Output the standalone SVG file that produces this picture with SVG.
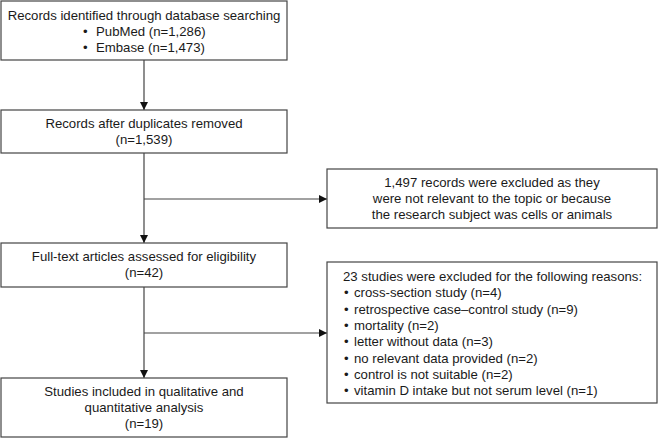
<svg xmlns="http://www.w3.org/2000/svg" width="659" height="438" viewBox="0 0 659 438">
<style>
.box{fill:#fff;stroke:#444;stroke-width:1.2}
text{font-family:"Liberation Sans",Arial,sans-serif;font-size:13.2px;fill:#1a1a1a}
.c{text-anchor:middle}
.ln{stroke:#444;stroke-width:1.2;fill:none}
</style>
<defs>
<marker id="ah" viewBox="0 0 10 10" refX="10" refY="5" markerWidth="8" markerHeight="8" markerUnits="userSpaceOnUse" orient="auto">
<path d="M0,0 L10,5 L0,10 z" fill="#111"/>
</marker>
</defs>
<rect width="659" height="438" fill="#fff"/>
<g id="connectors">
<line class="ln" x1="144" y1="60" x2="144" y2="110" marker-end="url(#ah)"/>
<line class="ln" x1="144" y1="153" x2="144" y2="243" marker-end="url(#ah)"/>
<line class="ln" x1="144" y1="199" x2="327" y2="199" marker-end="url(#ah)"/>
<line class="ln" x1="144" y1="287" x2="144" y2="378" marker-end="url(#ah)"/>
<line class="ln" x1="144" y1="333" x2="327" y2="333" marker-end="url(#ah)"/>
</g>
<g id="n1">
<rect class="box" x="1" y="1" width="286" height="59"/>
<text class="c" x="144" y="20">Records identified through database searching</text>
<text x="83" y="36">•<tspan x="96">PubMed (n=1,286)</tspan></text>
<text x="83" y="52">•<tspan x="96">Embase (n=1,473)</tspan></text>
</g>
<g id="n2">
<rect class="box" x="1" y="110" width="286" height="43"/>
<text class="c" x="144" y="128">Records after duplicates removed</text>
<text class="c" x="144" y="144">(n=1,539)</text>
</g>
<g id="n3">
<rect class="box" x="327" y="169" width="330" height="59"/>
<text class="c" x="492" y="187">1,497 records were excluded as they</text>
<text class="c" x="492" y="203">were not relevant to the topic or because</text>
<text class="c" x="492" y="219">the research subject was cells or animals</text>
</g>
<g id="n4">
<rect class="box" x="1" y="243" width="286" height="44"/>
<text class="c" x="144" y="261">Full-text articles assessed for eligibility</text>
<text class="c" x="144" y="277">(n=42)</text>
</g>
<g id="n5">
<rect class="box" x="327" y="262" width="330" height="141"/>
<text x="343" y="281">23 studies were excluded for the following reasons:</text>
<text x="344" y="297.3">•<tspan x="354">cross-section study (n=4)</tspan></text>
<text x="344" y="313.6">•<tspan x="354">retrospective case–control study (n=9)</tspan></text>
<text x="344" y="329.9">•<tspan x="354">mortality (n=2)</tspan></text>
<text x="344" y="346.2">•<tspan x="354">letter without data (n=3)</tspan></text>
<text x="344" y="362.5">•<tspan x="354">no relevant data provided (n=2)</tspan></text>
<text x="344" y="378.8">•<tspan x="354">control is not suitable (n=2)</tspan></text>
<text x="344" y="395.1">•<tspan x="354">vitamin D intake but not serum level (n=1)</tspan></text>
</g>
<g id="n6">
<rect class="box" x="1" y="378" width="286" height="59"/>
<text class="c" x="144" y="396">Studies included in qualitative and</text>
<text class="c" x="144" y="412">quantitative analysis</text>
<text class="c" x="144" y="428">(n=19)</text>
</g>
</svg>
